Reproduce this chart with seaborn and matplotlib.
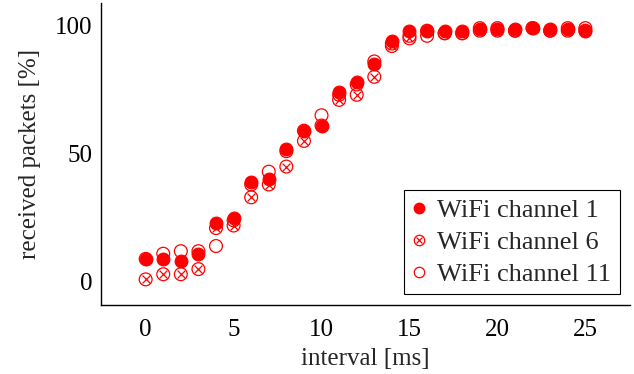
import matplotlib
matplotlib.use("Agg")
import matplotlib.pyplot as plt
import seaborn as sns
import pandas as pd
from matplotlib.lines import Line2D
from matplotlib.legend_handler import HandlerTuple

# dati
interval = list(range(26))
ch1 = [9, 9, 8, 11, 23, 25, 39, 40, 52, 59, 61, 74, 78, 85, 94, 98, 98, 98, 98, 98.5, 98.5, 98.5, 99, 98.5, 98.5, 98]
ch6 = [1, 3, 3, 5, 21, 22, 33, 38, 45, 55, 61, 71, 73, 80, 92, 95, 98, 97, 97, 98, 98, 98, 99, 98, 98, 98]
ch11 = [9, 11, 12, 12, 14, 24, 38, 43, 51, 59, 65, 73, 77, 86, 93, 96, 96, 97, 97, 99, 99, 98, 99, 98, 99, 99]
labels = ["WiFi channel 1", "WiFi channel 6", "WiFi channel 11"]

df = pd.DataFrame({"interval": interval, "ch1": ch1, "ch6": ch6, "ch11": ch11})

sns.set_style("white")
plt.rcParams["font.family"] = ["Liberation Serif", "DejaVu Serif"]

fig = plt.figure(figsize=(6.34, 3.74), dpi=100)
ax = fig.add_axes([0.159, 0.1845, 0.835, 0.8075])

red = "#ff0000"
# canale 1: cerchi pieni
sns.scatterplot(data=df, x="interval", y="ch1", ax=ax, s=85, marker="o",
                color=red, edgecolor=red, linewidth=0.8, zorder=3)
# canale 6: cerchio con croce
sns.scatterplot(data=df, x="interval", y="ch6", ax=ax, s=85, marker="o",
                facecolor="none", edgecolor=red, linewidth=0.9, zorder=4)
sns.scatterplot(data=df, x="interval", y="ch6", ax=ax, s=32, marker="x",
                color=red, linewidth=0.9, zorder=4)
# canale 11: cerchi vuoti
sns.scatterplot(data=df, x="interval", y="ch11", ax=ax, s=85, marker="o",
                facecolor="none", edgecolor=red, linewidth=0.9, zorder=5)

ax.set_xlim(-2.55, 27.55)
ax.set_ylim(-9, 108.8)
ax.set_xticks([0, 5, 10, 15, 20, 25])
ax.set_yticks([0, 50, 100])
ax.tick_params(axis="both", direction="in", length=8, width=0.6, color="#999999",
               labelsize=18, labelcolor="black", pad=6)
ax.tick_params(axis="x", pad=10)
for side in ["top", "right"]:
    ax.spines[side].set_visible(False)
for side in ["left", "bottom"]:
    ax.spines[side].set_color("black")
    ax.spines[side].set_linewidth(1.0)

ax.set_xlabel("interval [ms]", fontsize=18, labelpad=5)
ax.set_ylabel("received packets [%]", fontsize=18, labelpad=10)

# legenda
h1 = Line2D([], [], marker="o", linestyle="none", color=red, markersize=7.5)
h6a = Line2D([], [], marker="o", linestyle="none", markerfacecolor="none",
             markeredgecolor=red, markersize=7.5, markeredgewidth=0.9)
h6b = Line2D([], [], marker="x", linestyle="none", color=red, markersize=4.5, markeredgewidth=0.9)
h11 = Line2D([], [], marker="o", linestyle="none", markerfacecolor="none",
             markeredgecolor=red, markersize=7.5, markeredgewidth=0.9)
leg = ax.legend([h1, (h6a, h6b), h11], labels,
                handler_map={tuple: HandlerTuple(ndivide=1, pad=0)},
                loc="lower right", bbox_to_anchor=(0.98, 0.035), fontsize=19,
                frameon=True, fancybox=False, framealpha=1, edgecolor="black",
                handlelength=0.5, handletextpad=0.45, borderpad=0.32, labelspacing=0.32,
                borderaxespad=0)
leg.get_frame().set_linewidth(0.8)

plt.savefig("out.png", dpi=100)
